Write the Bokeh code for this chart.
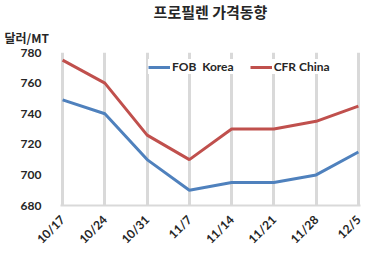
import math
from bokeh.plotting import figure
from bokeh.models import Range1d, FixedTicker, Title, Legend, LegendItem, ColumnDataSource
from bokeh.embed import file_html
from bokeh.resources import INLINE

dates = ["10/17", "10/24", "10/31", "11/7", "11/14", "11/21", "11/28", "12/5"]
fob_korea = [749, 740, 710, 690, 695, 695, 700, 715]
cfr_china = [775, 760, 726, 710, 730, 730, 735, 745]
y_ticks = [680, 700, 720, 740, 760, 780]

xs = list(range(len(dates)))
src = ColumnDataSource(dict(x=xs, fob=fob_korea, cfr=cfr_china))

p = figure(width=372, height=260, output_backend="svg", toolbar_location=None,
           x_range=Range1d(-0.05, len(dates) - 1 + 0.05), y_range=Range1d(680, 780),
           min_border_left=60, min_border_right=12, min_border_top=0, min_border_bottom=55)
p.outline_line_color = None
p.background_fill_color = "white"
p.border_fill_color = "white"

p.xgrid.ticker = FixedTicker(ticks=xs)
p.xgrid.grid_line_color = "#d9d9d9"
p.xgrid.grid_line_width = 3
p.ygrid.grid_line_color = None

p.xaxis.ticker = FixedTicker(ticks=xs)
p.xaxis.major_label_overrides = {i: d for i, d in enumerate(dates)}
p.xaxis.major_label_orientation = math.pi / 4
p.xaxis.axis_line_color = "#d9d9d9"
p.xaxis.axis_line_width = 2
p.xaxis.major_tick_line_color = None
p.xaxis.minor_tick_line_color = None
p.xaxis.major_label_standoff = 6
p.xaxis.major_label_text_font = "Lato"
p.xaxis.major_label_text_font_style = "bold"
p.xaxis.major_label_text_font_size = "12px"
p.xaxis.major_label_text_color = "#262626"

p.yaxis.ticker = FixedTicker(ticks=y_ticks)
p.yaxis.axis_line_color = None
p.yaxis.major_tick_line_color = None
p.yaxis.minor_tick_line_color = None
p.yaxis.major_label_standoff = 13
p.yaxis.major_label_text_font = "Lato"
p.yaxis.major_label_text_font_style = "bold"
p.yaxis.major_label_text_font_size = "12px"
p.yaxis.major_label_text_color = "#262626"

r1 = p.line("x", "fob", source=src, line_color="#4F81BD", line_width=3)
r2 = p.line("x", "cfr", source=src, line_color="#C0504D", line_width=3)

legend = Legend(items=[LegendItem(label="FOB  Korea", renderers=[r1]),
                       LegendItem(label="CFR China", renderers=[r2])],
                orientation="horizontal", location=(88, 131),
                border_line_color=None, background_fill_alpha=1,
                label_text_font="Lato", label_text_font_style="bold",
                label_text_font_size="12px", label_text_color="#262626",
                glyph_width=22, glyph_height=10, spacing=16, padding=2, margin=0,
                label_standoff=2)
p.add_layout(legend)

p.add_layout(Title(text="달러/MT", text_font="Noto Sans CJK KR", text_font_style="bold",
                   text_font_size="12px", text_color="#262626", align="left",
                   vertical_align="top", offset=-56, standoff=10), "above")

p.title.text = "프로필렌 가격동향"
p.title.text_font = "Noto Sans CJK KR"
p.title.text_font_style = "bold"
p.title.text_font_size = "15px"
p.title.text_color = "#262626"
p.title.align = "center"
p.title.vertical_align = "top"
p.title.offset = -24
p.title.standoff = 0

open("out.html", "w").write(file_html(p, INLINE))
